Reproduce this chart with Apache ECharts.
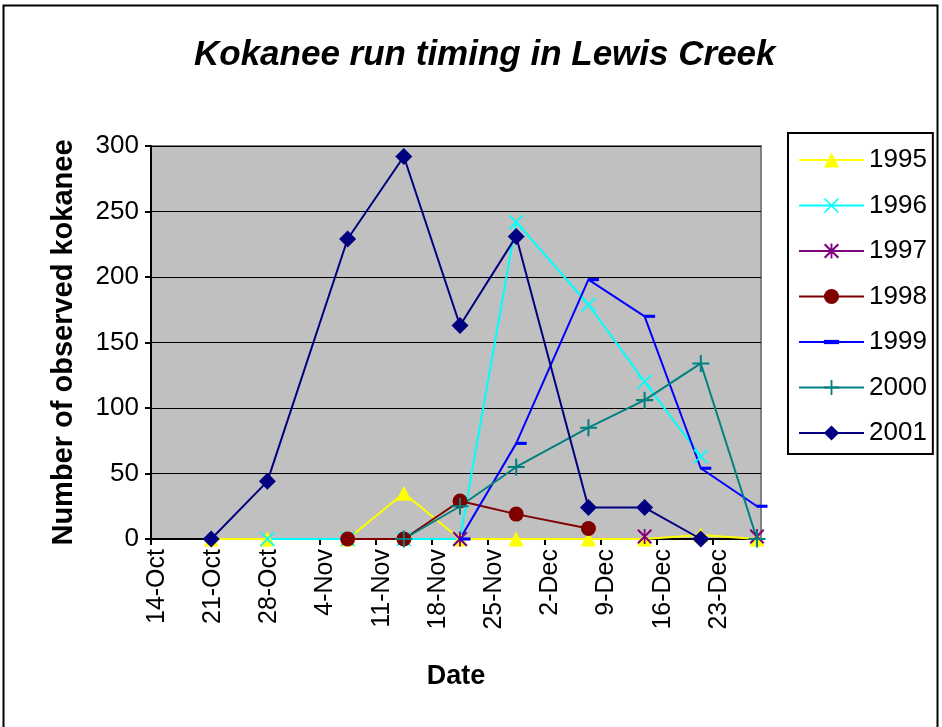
<!DOCTYPE html>
<html>
<head>
<meta charset="utf-8">
<script src="https://cdn.jsdelivr.net/npm/echarts@6/dist/echarts.min.js"></script>
<style>
  html, body { margin: 0; padding: 0; background: #fff; }
  #main { width: 942px; height: 727px; }
</style>
</head>
<body>
<div id="main"></div>
<script>
// survey dates and counts per year (null = no survey)
var dates = ['21-Oct', '28-Oct', '7-Nov', '14-Nov', '21-Nov', '28-Nov', '7-Dec', '14-Dec', '21-Dec', '28-Dec'];
var y1995 = [0, 0, 0, 35, 0, 0, 0, 0, 3, 0];
var y1996 = [null, 0, 0, 0, 0, 242, 179, 120, 63, null];
var y1997 = [null, null, null, null, 0, null, null, 2, null, 2];
var y1998 = [null, null, 0, 0, 29, 19, 8, null, null, null];
var y1999 = [null, null, null, null, 0, 73, 198, 170, 54, 25];
var y2000 = [null, null, null, 0, 25, 55, 85, 106, 134, 0];
var y2001 = [0, 44, 229, 292, 163, 231, 24, 24, 0, null];
var xTickLabels = ['14-Oct', '21-Oct', '28-Oct', '4-Nov', '11-Nov', '18-Nov', '25-Nov', '2-Dec', '9-Dec', '16-Dec', '23-Dec'];

var months = { Oct: 9, Nov: 10, Dec: 11 };
var base = Date.UTC(2001, 9, 14);
function dayOf(s) {
  var p = s.split('-');
  return (Date.UTC(2001, months[p[1]], +p[0]) - base) / 86400000;
}
function pairs(vals) {
  return dates.map(function (d, i) {
    return [dayOf(d), vals[i] == null ? '-' : vals[i]];
  });
}

var font = '"Liberation Sans", Arial, sans-serif';
var xPath = 'path://M0,0.8L0.8,0L10,9.2L9.2,10Z M9.2,0L10,0.8L0.8,10L0,9.2Z';
var starPath = 'path://M0,1L1,0L10,9L9,10Z M9,0L10,1L1,10L0,9Z M4.4,0L5.6,0L5.6,10L4.4,10Z';
var plusPath = 'path://M4.4,0L5.6,0L5.6,4.4L10,4.4L10,5.6L5.6,5.6L5.6,10L4.4,10L4.4,5.6L0,5.6L0,4.4L4.4,4.4Z';
// thin dash inside a square box so it keeps its shape
var dashPath = 'path://M0,0L0,0M0,3.6L10,3.6L10,6.4L0,6.4ZM10,10L10,10';

function mkSeries(name, vals, color, symbol, size, extra) {
  var s = {
    name: name,
    type: 'line',
    data: pairs(vals),
    symbol: symbol,
    symbolSize: size,
    showAllSymbol: true,
    connectNulls: false,
    animation: false,
    lineStyle: { color: color, width: 2 },
    itemStyle: { color: color, borderWidth: 0 }
  };
  if (extra) Object.assign(s, extra);
  return s;
}

var myChart = echarts.init(document.getElementById('main'));
var option = {
  backgroundColor: '#fff',
  textStyle: { fontFamily: font },
  title: {
    text: 'Kokanee run timing in Lewis Creek',
    left: 189,
    top: 33,
    textStyle: { fontFamily: font, fontSize: 35, fontWeight: 'bold', fontStyle: 'italic', color: '#000' }
  },
  graphic: [{
    type: 'rect',
    shape: { x: 3.5, y: 5.5, width: 934, height: 740 },
    style: { fill: 'none', stroke: '#000', lineWidth: 2 },
    silent: true
  }],
  legend: {
    orient: 'vertical',
    left: 788,
    top: 133,
    padding: [14, 6, 8, 10],
    itemWidth: 65,
    itemHeight: 19,
    itemGap: 19.5,
    borderColor: '#000',
    borderWidth: 2,
    backgroundColor: '#fff',
    textStyle: { fontFamily: font, fontSize: 26, color: '#000', lineHeight: 26 },
    data: ['1995', '1996', '1997', '1998', '1999', '2000', '2001']
  },
  grid: {
    left: 151,
    top: 146,
    width: 610,
    height: 393,
    show: true,
    backgroundColor: '#C0C0C0',
    borderColor: '#808080',
    borderWidth: 2
  },
  // Excel-style date axis: each day is a bin, points sit mid-bin
  xAxis: {
    type: 'value',
    min: -0.5,
    max: 75.5,
    interval: 7,
    name: 'Date',
    nameLocation: 'middle',
    nameGap: 124,
    nameTextStyle: { fontFamily: font, fontSize: 27, fontWeight: 'bold', color: '#000' },
    axisLine: { show: true, onZero: false, lineStyle: { color: '#000', width: 2 } },
    axisTick: { show: true, inside: false, length: 6, lineStyle: { color: '#000', width: 2 } },
    splitLine: { show: false },
    axisLabel: {
      rotate: 90,
      margin: 10,
      verticalAlign: 'top',
      lineHeight: 12,
      fontFamily: font,
      fontSize: 25,
      color: '#000',
      showMaxLabel: false,
      formatter: function (v) {
        var k = Math.round((v + 0.5) / 7);
        return Math.abs(k * 7 - 0.5 - v) < 0.01 ? (xTickLabels[k] || '') : '';
      }
    }
  },
  yAxis: {
    type: 'value',
    min: 0,
    max: 300,
    interval: 50,
    name: 'Number of observed kokanee',
    nameLocation: 'middle',
    nameGap: 73,
    nameRotate: 90,
    nameTextStyle: { fontFamily: font, fontSize: 29, fontWeight: 'bold', color: '#000' },
    axisLine: { show: true, onZero: false, lineStyle: { color: '#000', width: 2 } },
    axisTick: { show: true, inside: false, length: 6, lineStyle: { color: '#000', width: 2 } },
    splitLine: { show: true, lineStyle: { color: '#000', width: 1 } },
    axisLabel: { margin: 12, fontFamily: font, fontSize: 26, color: '#000' }
  },
  series: [
    mkSeries('1995', y1995, '#FFFF00', 'triangle', 15),
    mkSeries('1996', y1996, '#00FFFF', xPath, 15),
    mkSeries('1997', y1997, '#800080', starPath, 15),
    mkSeries('1998', y1998, '#800000', 'circle', 15),
    mkSeries('1999', y1999, '#0000FF', dashPath, 11, { symbolOffset: [5, 0] }),
    mkSeries('2000', y2000, '#008080', plusPath, 17),
    mkSeries('2001', y2001, '#000080', 'diamond', 17)
  ]
};
myChart.setOption(option);
</script>
</body>
</html>
